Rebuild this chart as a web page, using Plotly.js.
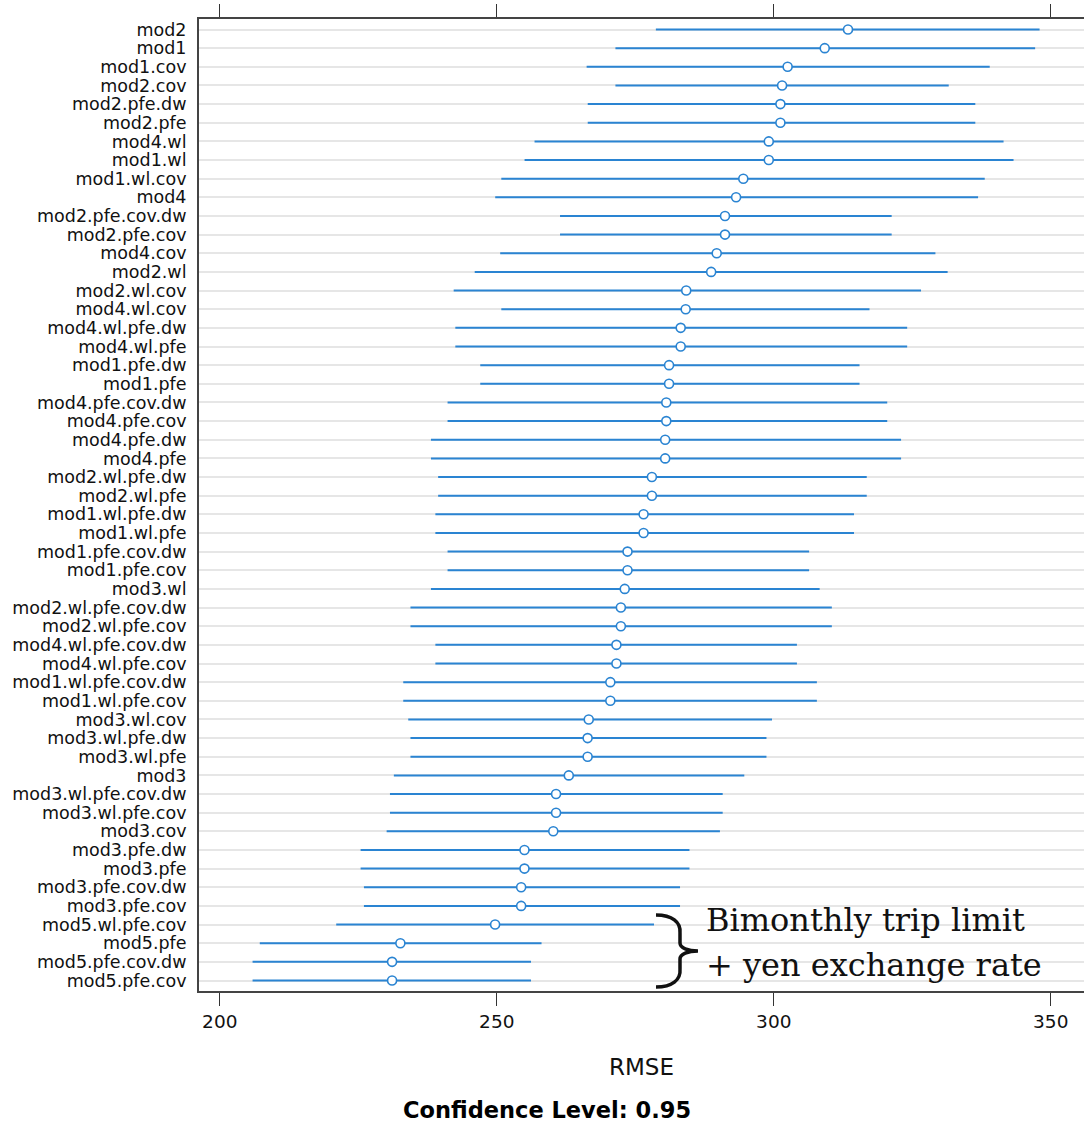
<!DOCTYPE html>
<html>
<head>
<meta charset="utf-8">
<script src="https://cdn.plot.ly/plotly-3.0.1.min.js"></script>
<style>
  html, body { margin: 0; padding: 0; background: #fff; }
  #chart { width: 1084px; height: 1124px; }
</style>
</head>
<body>
<div id="chart"></div>
<script>
// Resampled RMSE per model: point estimate with lower / upper confidence bounds
const models = [
  "mod2", "mod1", "mod1.cov", "mod2.cov", "mod2.pfe.dw", "mod2.pfe", "mod4.wl", "mod1.wl",
  "mod1.wl.cov", "mod4", "mod2.pfe.cov.dw", "mod2.pfe.cov", "mod4.cov", "mod2.wl",
  "mod2.wl.cov", "mod4.wl.cov", "mod4.wl.pfe.dw", "mod4.wl.pfe", "mod1.pfe.dw", "mod1.pfe",
  "mod4.pfe.cov.dw", "mod4.pfe.cov", "mod4.pfe.dw", "mod4.pfe", "mod2.wl.pfe.dw", "mod2.wl.pfe",
  "mod1.wl.pfe.dw", "mod1.wl.pfe", "mod1.pfe.cov.dw", "mod1.pfe.cov", "mod3.wl",
  "mod2.wl.pfe.cov.dw", "mod2.wl.pfe.cov", "mod4.wl.pfe.cov.dw", "mod4.wl.pfe.cov",
  "mod1.wl.pfe.cov.dw", "mod1.wl.pfe.cov", "mod3.wl.cov", "mod3.wl.pfe.dw", "mod3.wl.pfe",
  "mod3", "mod3.wl.pfe.cov.dw", "mod3.wl.pfe.cov", "mod3.cov", "mod3.pfe.dw", "mod3.pfe",
  "mod3.pfe.cov.dw", "mod3.pfe.cov", "mod5.wl.pfe.cov", "mod5.pfe", "mod5.pfe.cov.dw", "mod5.pfe.cov"
];

const rmse = [
  313.4, 309.2, 302.5, 301.5, 301.2, 301.2, 299.1, 299.1,
  294.5, 293.2, 291.2, 291.2, 289.7, 288.7,
  284.2, 284.1, 283.2, 283.2, 281.1, 281.1,
  280.6, 280.6, 280.4, 280.4, 278.0, 278.0,
  276.5, 276.5, 273.6, 273.6, 273.1,
  272.4, 272.4, 271.6, 271.6,
  270.5, 270.5, 266.6, 266.4, 266.4,
  263.0, 260.7, 260.7, 260.2, 255.0, 255.0,
  254.4, 254.4, 249.7, 232.6, 231.1, 231.1
];

const lower = [
  278.9, 271.6, 266.4, 271.6, 266.6, 266.6, 257.0, 255.2,
  251.0, 249.9, 261.6, 261.6, 250.8, 246.2,
  242.4, 251.0, 242.7, 242.7, 247.2, 247.2,
  241.3, 241.3, 238.3, 238.3, 239.6, 239.6,
  239.1, 239.1, 241.3, 241.3, 238.3,
  234.6, 234.6, 239.1, 239.1,
  233.3, 233.3, 234.2, 234.6, 234.6,
  231.6, 230.9, 230.9, 230.3, 225.6, 225.6,
  226.2, 226.2, 221.2, 207.4, 206.1, 206.1
];

const upper = [
  347.8, 347.0, 338.8, 331.4, 336.2, 336.2, 341.3, 343.1,
  337.9, 336.7, 321.1, 321.1, 329.0, 331.2,
  326.4, 317.1, 323.9, 323.9, 315.3, 315.3,
  320.3, 320.3, 322.8, 322.8, 316.6, 316.6,
  314.3, 314.3, 306.2, 306.2, 308.1,
  310.3, 310.3, 304.0, 304.0,
  307.6, 307.6, 299.5, 298.5, 298.5,
  294.5, 290.6, 290.6, 290.1, 284.6, 284.6,
  282.9, 282.9, 278.2, 257.9, 256.0, 256.0
];

const xTicks = [200, 250, 300, 350];
const noteLines = ["Bimonthly trip limit", "+ yen exchange rate"];
const subTitle = "Confidence Level: 0.95";

const W = 1084, H = 1124;
const M = { l: 199, r: 0, t: 19, b: 133 };
const plotW = W - M.l - M.r, plotH = H - M.t - M.b;

// pixel position on the page -> paper fraction of the plotting area
const px = x => (x - M.l) / plotW;
const py = y => (H - M.b - y) / plotH;

const blue = "#2a84d2";

const trace = {
  type: "scatter",
  mode: "markers",
  x: rmse,
  y: models,
  orientation: "h",
  marker: {
    symbol: "circle",
    size: 9,
    color: "#ffffff",
    line: { color: blue, width: 1.6 }
  },
  error_x: {
    type: "data",
    symmetric: false,
    array: upper.map((u, i) => u - rmse[i]),
    arrayminus: lower.map((l, i) => rmse[i] - l),
    color: blue,
    thickness: 2,
    width: 1
  },
  hoverinfo: "x+y",
  showlegend: false
};

// curly brace grouping the last rows, drawn as a path in paper units
const bracePts = [
  ["M", 656, 915],
  ["C", 672, 915, 681, 922, 680, 933],
  ["L", 680, 943],
  ["C", 680, 948, 688, 951, 698, 951],
  ["C", 688, 951, 680, 954, 680, 959],
  ["L", 680, 969],
  ["C", 681, 980, 672, 987, 656, 987]
];
const bracePath = bracePts.map(seg => {
  const cmd = seg[0];
  const nums = seg.slice(1);
  const parts = [];
  for (let i = 0; i < nums.length; i += 2) {
    parts.push(px(nums[i]).toFixed(5) + "," + py(nums[i + 1]).toFixed(5));
  }
  return cmd + " " + parts.join(" ");
}).join(" ");

const layout = {
  width: W,
  height: H,
  margin: M,
  paper_bgcolor: "#ffffff",
  plot_bgcolor: "#ffffff",
  font: { family: "DejaVu Sans, sans-serif", color: "#111111" },
  xaxis: {
    range: [196.25, 356.0],
    tickvals: xTicks,
    ticktext: xTicks.map(String),
    ticks: "outside",
    ticklen: 13,
    tickwidth: 1.3,
    tickcolor: "#333333",
    tickfont: { size: 18.5, family: "DejaVu Sans, sans-serif", color: "#111111" },
    showline: true,
    linecolor: "#444444",
    linewidth: 2,
    mirror: "ticks",
    showgrid: false,
    zeroline: false,
    title: {
      text: "RMSE",
      font: { size: 23, family: "DejaVu Sans, sans-serif", color: "#111111" },
      standoff: 28
    }
  },
  yaxis: {
    type: "category",
    categoryorder: "array",
    categoryarray: models,
    tickmode: "array",
    tickvals: models,
    ticktext: models,
    range: [models.length - 1 + 0.563, -0.563],
    ticks: "",
    ticklabelstandoff: 7,
    tickfont: { size: 17.5, family: "DejaVu Sans, sans-serif", color: "#111111" },
    showline: true,
    linecolor: "#444444",
    linewidth: 2,
    mirror: false,
    showgrid: true,
    gridcolor: "#e6e6e6",
    gridwidth: 2,
    zeroline: false
  },
  shapes: [
    {
      type: "path",
      xref: "paper",
      yref: "paper",
      path: bracePath,
      line: { color: "#111111", width: 3.5 },
      fillcolor: "rgba(0,0,0,0)"
    }
  ],
  annotations: [
    {
      xref: "paper", yref: "paper",
      x: px(704), y: py(920),
      xanchor: "left", yanchor: "middle",
      text: noteLines[0],
      showarrow: false,
      font: { family: "DejaVu Serif, serif", size: 32, color: "#111111" }
    },
    {
      xref: "paper", yref: "paper",
      x: px(704), y: py(964.5),
      xanchor: "left", yanchor: "middle",
      text: noteLines[1],
      showarrow: false,
      font: { family: "DejaVu Serif, serif", size: 32, color: "#111111" }
    },
    {
      xref: "paper", yref: "paper",
      x: px(547), y: py(1110),
      xanchor: "center", yanchor: "middle",
      text: "<b>" + subTitle + "</b>",
      showarrow: false,
      font: { family: "DejaVu Sans, sans-serif", size: 22.5, color: "#000000" }
    }
  ]
};

Plotly.newPlot("chart", [trace], layout, { displayModeBar: false, staticPlot: true });
</script>
</body>
</html>
